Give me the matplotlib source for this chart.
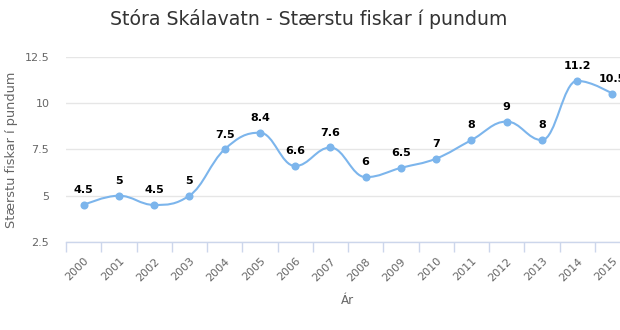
import numpy as np
import matplotlib
matplotlib.use("Agg")
import matplotlib.pyplot as plt
from matplotlib.path import Path
from matplotlib.patches import PathPatch

years = ["2000", "2001", "2002", "2003", "2004", "2005", "2006", "2007",
         "2008", "2009", "2010", "2011", "2012", "2013", "2014", "2015"]
values = [4.5, 5, 4.5, 5, 7.5, 8.4, 6.6, 7.6, 6, 6.5, 7, 8, 9, 8, 11.2, 10.5]
labels = ["4.5", "5", "4.5", "5", "7.5", "8.4", "6.6", "7.6", "6", "6.5",
          "7", "8", "9", "8", "11.2", "10.5"]
title = "Stóra Skálavatn - Stærstu fiskar í pundum"
ylabel = "Stærstu fiskar í pundum"
xlabel = "Ár"
yticks = [2.5, 5, 7.5, 10, 12.5]

plt.rcParams['font.family'] = ['DejaVu Sans']

fig = plt.figure(figsize=(6.2, 3.3), dpi=100)
ax = fig.add_axes([66/620, 1-242/330, (620-66)/620, (242-56.7)/330])

xs = np.arange(len(values), dtype=float)
ys = np.array(values, dtype=float)


def highcharts_spline(x, y, smoothing=1.5):
    denom = smoothing + 1
    n = len(x)
    lc = [None]*n
    rc = [None]*n
    for i in range(1, n-1):
        px, py = x[i], y[i]
        lx, ly = x[i-1], y[i-1]
        nx, ny = x[i+1], y[i+1]
        lcx = (smoothing*px + lx)/denom
        lcy = (smoothing*py + ly)/denom
        rcx = (smoothing*px + nx)/denom
        rcy = (smoothing*py + ny)/denom
        if rcx != lcx:
            corr = ((rcy - lcy)*(rcx - px))/(rcx - lcx) + py - rcy
            lcy += corr
            rcy += corr
        if lcy > ly and lcy > py:
            lcy = max(ly, py)
            rcy = 2*py - lcy
        elif lcy < ly and lcy < py:
            lcy = min(ly, py)
            rcy = 2*py - lcy
        if rcy > ny and rcy > py:
            rcy = max(ny, py)
            lcy = 2*py - rcy
        elif rcy < ny and rcy < py:
            rcy = min(ny, py)
            lcy = 2*py - rcy
        lc[i] = (lcx, lcy)
        rc[i] = (rcx, rcy)
    verts = [(x[0], y[0])]
    codes = [Path.MOVETO]
    for i in range(1, n):
        c1 = rc[i-1] if rc[i-1] is not None else (x[i-1], y[i-1])
        c2 = lc[i] if lc[i] is not None else (x[i], y[i])
        verts += [c1, c2, (x[i], y[i])]
        codes += [Path.CURVE4]*3
    return Path(verts, codes)


color = "#7cb5ec"
ax.add_patch(PathPatch(highcharts_spline(xs, ys), fill=False, edgecolor=color,
                       lw=1.5, capstyle='round', joinstyle='round', zorder=3,
                       clip_on=False))
ax.plot(xs, ys, 'o', color=color, ms=5.8, mew=0, zorder=4, clip_on=False)

for xv, yv, lab in zip(xs, ys, labels):
    ax.annotate(lab, (xv, yv), xytext=(0, 7), textcoords='offset points',
                ha='center', va='bottom', fontsize=8, fontweight='bold',
                color='#000000', clip_on=False, annotation_clip=False)

ax.set_yticks(yticks)
ax.set_yticklabels([f"{t:g}" for t in yticks])
ax.grid(axis='y', color='#e6e6e6', lw=1)
ax.set_axisbelow(True)

ax.set_xticks(xs)
ax.set_xticklabels(years, rotation=45, ha='right', rotation_mode='anchor')
ax.set_xticks(np.arange(-0.5, len(values), 1.0), minor=True)
ax.tick_params(axis='x', which='major', length=0, pad=10, labelsize=8, labelcolor='#666666')
ax.tick_params(axis='x', which='minor', length=7.5, width=1, color='#ccd6eb', direction='out')
ax.tick_params(axis='y', length=0, pad=12, labelsize=8, labelcolor='#666666')

ax.set_xlim(-0.5, -0.5 + (620-66)/35.25)
ax.set_ylim(2.5, 12.5)

for s in ['top', 'right', 'left']:
    ax.spines[s].set_visible(False)
ax.spines['bottom'].set_color('#ccd6eb')
ax.spines['bottom'].set_linewidth(1)

fig.text(309/620, 1-19/330, title, ha='center', va='center', fontsize=13.6, color='#333333')
fig.text(12/620, 1-150/330, ylabel, ha='center', va='center', rotation=90,
         fontsize=9.3, color='#666666')
fig.text(347/620, 1-300/330, xlabel, ha='center', va='center', fontsize=8.6, color='#666666')

fig.savefig("out.png", dpi=100)
